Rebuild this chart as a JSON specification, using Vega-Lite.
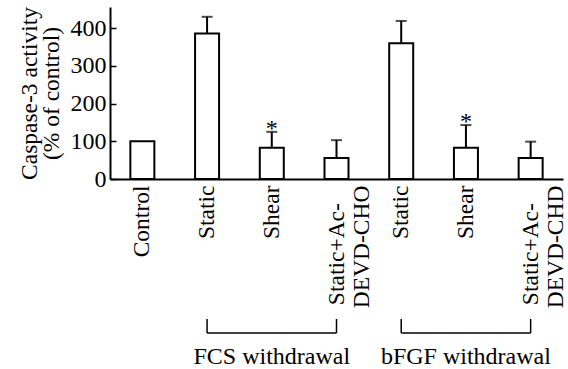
{
  "$schema": "https://vega.github.io/schema/vega-lite/v6.json",
  "padding": {"left": 17, "top": 6, "right": 0, "bottom": 0},
  "background": "white",
  "config": {
    "view": {"stroke": null},
    "font": "Liberation Serif",
    "text": {"font": "Liberation Serif"},
    "axis": {"labelFont": "Liberation Serif", "titleFont": "Liberation Serif", "labelColor": "black", "titleColor": "black", "domainColor": "black", "tickColor": "black", "titleFontWeight": "normal", "grid": false}
  },
  "datasets": {
    "bars": [
      {"key": "Control", "value": 100},
      {"key": "FCS Static", "value": 386, "hi": 430},
      {"key": "FCS Shear", "value": 83, "hi": 125, "sig": "*"},
      {"key": "FCS Static+Ac-DEVD-CHO", "value": 56, "hi": 103},
      {"key": "bFGF Static", "value": 360, "hi": 419},
      {"key": "bFGF Shear", "value": 83, "hi": 143, "sig": "*"},
      {"key": "bFGF Static+Ac-DEVD-CHD", "value": 56, "hi": 99}
    ],
    "groups": [
      {"group": "FCS withdrawal", "start": "FCS Static", "mid": "FCS Shear", "end": "FCS Static+Ac-DEVD-CHO"},
      {"group": "bFGF withdrawal", "start": "bFGF Static", "mid": "bFGF Shear", "end": "bFGF Static+Ac-DEVD-CHD"}
    ]
  },
  "spacing": 10,
  "vconcat": [
    {
      "width": 453,
      "height": 172,
      "data": {"name": "bars"},
      "encoding": {
        "x": {
          "field": "key", "type": "nominal",
          "scale": {"domain": ["Control", "FCS Static", "FCS Shear", "FCS Static+Ac-DEVD-CHO", "bFGF Static", "bFGF Shear", "bFGF Static+Ac-DEVD-CHD"], "paddingInner": 0, "paddingOuter": 0},
          "axis": {
            "title": null, "ticks": false, "domainWidth": 2, "labelAngle": 270, "labelFontSize": 23.5, "labelLineHeight": 25, "labelPadding": 6, "labelOverlap": false,
            "labelExpr": "datum.value == 'FCS Static+Ac-DEVD-CHO' ? ['Static+Ac-\u00a0\u00a0\u00a0\u200b', 'DEVD-CHO'] : datum.value == 'bFGF Static+Ac-DEVD-CHD' ? ['Static+Ac-\u00a0\u00a0\u00a0\u200b', 'DEVD-CHD'] : replace(replace(datum.value, 'bFGF ', ''), 'FCS ', '')"
          }
        }
      },
      "layer": [
        {
          "mark": {"type": "bar", "size": 24, "fill": "white", "stroke": "black", "strokeWidth": 2},
          "encoding": {
            "y": {
              "field": "value", "type": "quantitative",
              "scale": {"domain": [0, 456], "nice": false},
              "axis": {
                "title": ["Caspase-3 activity", "(% of control)"], "titleFontSize": 23.5, "titleLineHeight": 22, "titlePadding": 6.5,
                "values": [0, 50, 100, 150, 200, 250, 300, 350, 400, 450],
                "labelExpr": "datum.value % 100 == 0 ? datum.label : ''",
                "labelFontSize": 24, "labelPadding": 10, "tickSize": -6, "tickWidth": 1.5, "domainWidth": 2
              }
            }
          }
        },
        {
          "transform": [{"filter": "isValid(datum.hi)"}],
          "mark": {"type": "rule", "color": "black", "strokeWidth": 2},
          "encoding": {"y": {"field": "value", "type": "quantitative"}, "y2": {"field": "hi"}}
        },
        {
          "transform": [{"filter": "isValid(datum.hi)"}],
          "mark": {"type": "tick", "color": "black", "size": 11, "thickness": 2, "orient": "horizontal"},
          "encoding": {"y": {"field": "hi", "type": "quantitative"}}
        },
        {
          "transform": [{"filter": "isValid(datum.sig)"}],
          "mark": {"type": "text", "fontSize": 24, "baseline": "alphabetic", "dy": 4, "color": "black"},
          "encoding": {"y": {"field": "hi", "type": "quantitative"}, "text": {"field": "sig"}}
        }
      ]
    },
    {
      "width": 453,
      "height": 45,
      "data": {"name": "groups"},
      "layer": [
        {
          "mark": {"type": "rule", "color": "black", "strokeWidth": 1.5},
          "encoding": {
            "x": {"field": "start", "type": "nominal", "scale": {"domain": ["Control", "FCS Static", "FCS Shear", "FCS Static+Ac-DEVD-CHO", "bFGF Static", "bFGF Shear", "bFGF Static+Ac-DEVD-CHD"], "paddingInner": 0, "paddingOuter": 0}, "axis": null},
            "x2": {"field": "end"},
            "y": {"datum": 0.69, "type": "quantitative", "scale": {"domain": [0, 1]}, "axis": null}
          }
        },
        {
          "mark": {"type": "rule", "color": "black", "strokeWidth": 1.5},
          "encoding": {
            "x": {"field": "start", "type": "nominal"},
            "y": {"datum": 0.69, "type": "quantitative"},
            "y2": {"datum": 1}
          }
        },
        {
          "mark": {"type": "rule", "color": "black", "strokeWidth": 1.5},
          "encoding": {
            "x": {"field": "end", "type": "nominal"},
            "y": {"datum": 0.69, "type": "quantitative"},
            "y2": {"datum": 1}
          }
        },
        {
          "mark": {"type": "text", "fontSize": 24, "baseline": "alphabetic", "align": "center", "color": "black"},
          "encoding": {
            "x": {"field": "mid", "type": "nominal"},
            "y": {"datum": 0, "type": "quantitative"},
            "text": {"field": "group"}
          }
        }
      ]
    }
  ]
}
